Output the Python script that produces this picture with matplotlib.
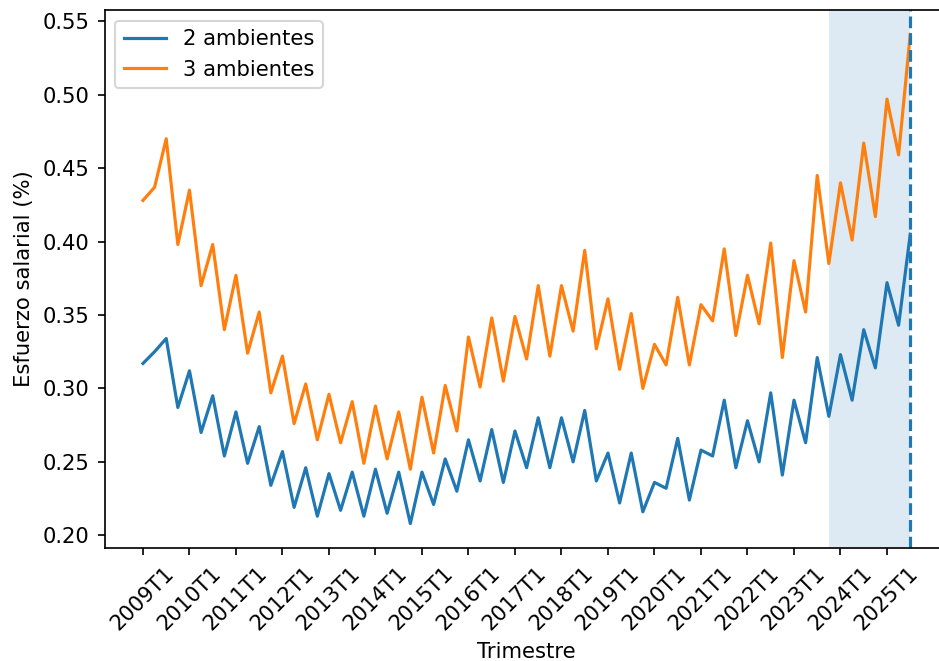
import matplotlib
matplotlib.use("Agg")
import matplotlib.pyplot as plt

# Quarters 2009T1 .. 2025T3
quarters = [f"{y}T{q}" for y in range(2009, 2026) for q in range(1, 5)][:67]

esfuerzo_2amb = [
    0.317, 0.325, 0.334, 0.287, 0.312, 0.270, 0.295, 0.254, 0.284, 0.249,
    0.274, 0.234, 0.257, 0.219, 0.246, 0.213, 0.242, 0.217, 0.243, 0.213,
    0.245, 0.215, 0.243, 0.208, 0.243, 0.221, 0.252, 0.230, 0.265, 0.237,
    0.272, 0.236, 0.271, 0.246, 0.280, 0.246, 0.280, 0.250, 0.285, 0.237,
    0.256, 0.222, 0.256, 0.216, 0.236, 0.232, 0.266, 0.224, 0.258, 0.254,
    0.292, 0.246, 0.278, 0.250, 0.297, 0.241, 0.292, 0.263, 0.321, 0.281,
    0.323, 0.292, 0.340, 0.314, 0.372, 0.343, 0.405,
]

esfuerzo_3amb = [
    0.428, 0.437, 0.470, 0.398, 0.435, 0.370, 0.398, 0.340, 0.377, 0.324,
    0.352, 0.297, 0.322, 0.276, 0.303, 0.265, 0.296, 0.263, 0.291, 0.249,
    0.288, 0.252, 0.284, 0.245, 0.294, 0.256, 0.302, 0.271, 0.335, 0.301,
    0.348, 0.305, 0.349, 0.320, 0.370, 0.322, 0.370, 0.339, 0.394, 0.327,
    0.361, 0.313, 0.351, 0.300, 0.330, 0.316, 0.362, 0.316, 0.357, 0.346,
    0.395, 0.336, 0.377, 0.344, 0.399, 0.321, 0.387, 0.352, 0.445, 0.385,
    0.440, 0.401, 0.467, 0.417, 0.497, 0.459, 0.541,
]

span_start = "2023T4"
span_end = "2025T3"

DPI = 152
fig = plt.figure(figsize=(939 / DPI, 661 / DPI), dpi=DPI)
ax = fig.add_axes([104.6 / 939, 113 / 661, 844 / 939, 538 / 661])

ax.plot(quarters, esfuerzo_2amb, label="2 ambientes")
ax.plot(quarters, esfuerzo_3amb, label="3 ambientes")
ax.axvspan(quarters.index(span_start), quarters.index(span_end),
           color="C0", alpha=0.15, lw=0)
ax.axvline(quarters.index(span_end), color="C0", linestyle="--")

ax.set_xticks(range(0, len(quarters), 4))
ax.set_xticklabels(quarters[::4], rotation=45)
ax.set_xlabel("Trimestre")
ax.set_ylabel("Esfuerzo salarial (%)")
ax.legend(loc="upper left")

fig.savefig("out.png", dpi=DPI)
